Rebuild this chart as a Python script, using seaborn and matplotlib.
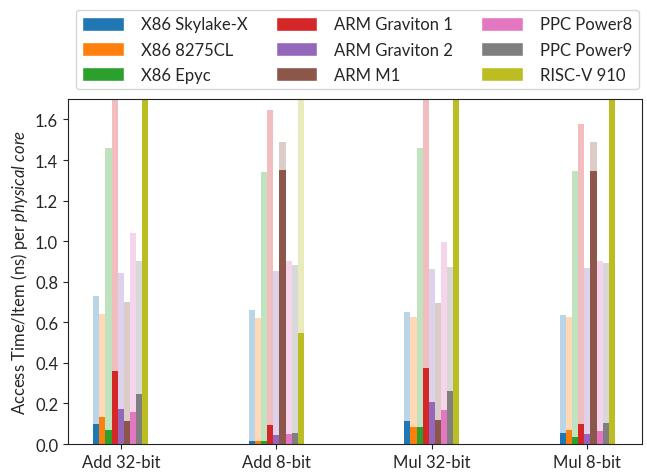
import numpy as np
import pandas as pd
import matplotlib
matplotlib.use("Agg")
import matplotlib.pyplot as plt
import seaborn as sns
from matplotlib.patches import Patch

benchmarks = ["Add 32-bit", "Add 8-bit", "Mul 32-bit", "Mul 8-bit"]
cpus = ["X86 Skylake-X", "X86 8275CL", "X86 Epyc", "ARM Graviton 1", "ARM Graviton 2",
        "ARM M1", "PPC Power8", "PPC Power9", "RISC-V 910"]

# light (transparent) bars: per physical core
light_add32 = [0.73, 0.64, 1.46, 2.00, 0.845, 0.70, 1.04, 0.90, 5.00]
light_add8 = [0.66, 0.62, 1.34, 1.645, 0.855, 1.49, 0.90, 0.885, 2.20]
light_mul32 = [0.65, 0.625, 1.46, 2.00, 0.865, 0.695, 0.995, 0.875, 5.00]
light_mul8 = [0.637, 0.627, 1.345, 1.577, 0.87, 1.49, 0.90, 0.893, 5.00]

# solid bars
solid_add32 = [0.10, 0.135, 0.07, 0.36, 0.175, 0.115, 0.16, 0.245, 2.50]
solid_add8 = [0.017, 0.017, 0.017, 0.095, 0.045, 1.35, 0.05, 0.055, 0.545]
solid_mul32 = [0.115, 0.085, 0.085, 0.375, 0.205, 0.12, 0.17, 0.26, 2.50]
solid_mul8 = [0.056, 0.07, 0.036, 0.10, 0.05, 1.345, 0.066, 0.105, 2.50]

colors = sns.color_palette("tab10", 9)

def long_df(rows):
    recs = []
    for b, vals in zip(benchmarks, rows):
        for c, v in zip(cpus, vals):
            recs.append({"bench": b, "cpu": c, "val": v})
    return pd.DataFrame(recs)

df_light = long_df([light_add32, light_add8, light_mul32, light_mul8])
df_solid = long_df([solid_add32, solid_add8, solid_mul32, solid_mul8])

sns.set_style("ticks")
plt.rcParams["font.family"] = ["Lato", "DejaVu Sans"]
plt.rcParams["mathtext.fontset"] = "custom"
plt.rcParams["mathtext.rm"] = "Lato"
plt.rcParams["mathtext.it"] = "Lato:italic"

fig = plt.figure(figsize=(6.47, 4.77), dpi=100)
ax = fig.add_axes([0.105, 0.067, 0.887, 0.723])

sns.barplot(data=df_light, x="bench", y="val", hue="cpu", hue_order=cpus,
            palette=colors, width=0.355, alpha=0.3, saturation=1, legend=False,
            errorbar=None, linewidth=0, ax=ax)
sns.barplot(data=df_solid, x="bench", y="val", hue="cpu", hue_order=cpus,
            palette=colors, width=0.355, saturation=1, legend=False,
            errorbar=None, linewidth=0, ax=ax)

ax.set_ylim(0, 1.7)
ax.set_xlim(-0.34, 3.35)
ax.set_yticks(np.arange(0, 1.61, 0.2))
ax.set_xlabel("")
ax.set_ylabel("Access Time/Item (ns) per $\\it{physical\\ core}$", fontsize=12)
ax.tick_params(labelsize=12)
for s in ax.spines.values():
    s.set_visible(True)
    s.set_color("#222222")

handles = [Patch(facecolor=c, label=l) for c, l in zip(colors, cpus)]
fig.legend(handles=handles, loc="upper center", bbox_to_anchor=(0.552, 0.995),
           ncol=3, fontsize=12, handlelength=2.5, handleheight=0.9,
           handletextpad=1.0, columnspacing=1.7, labelspacing=0.55,
           frameon=True, edgecolor="#cccccc", fancybox=True)

fig.savefig("out.png", dpi=100)
